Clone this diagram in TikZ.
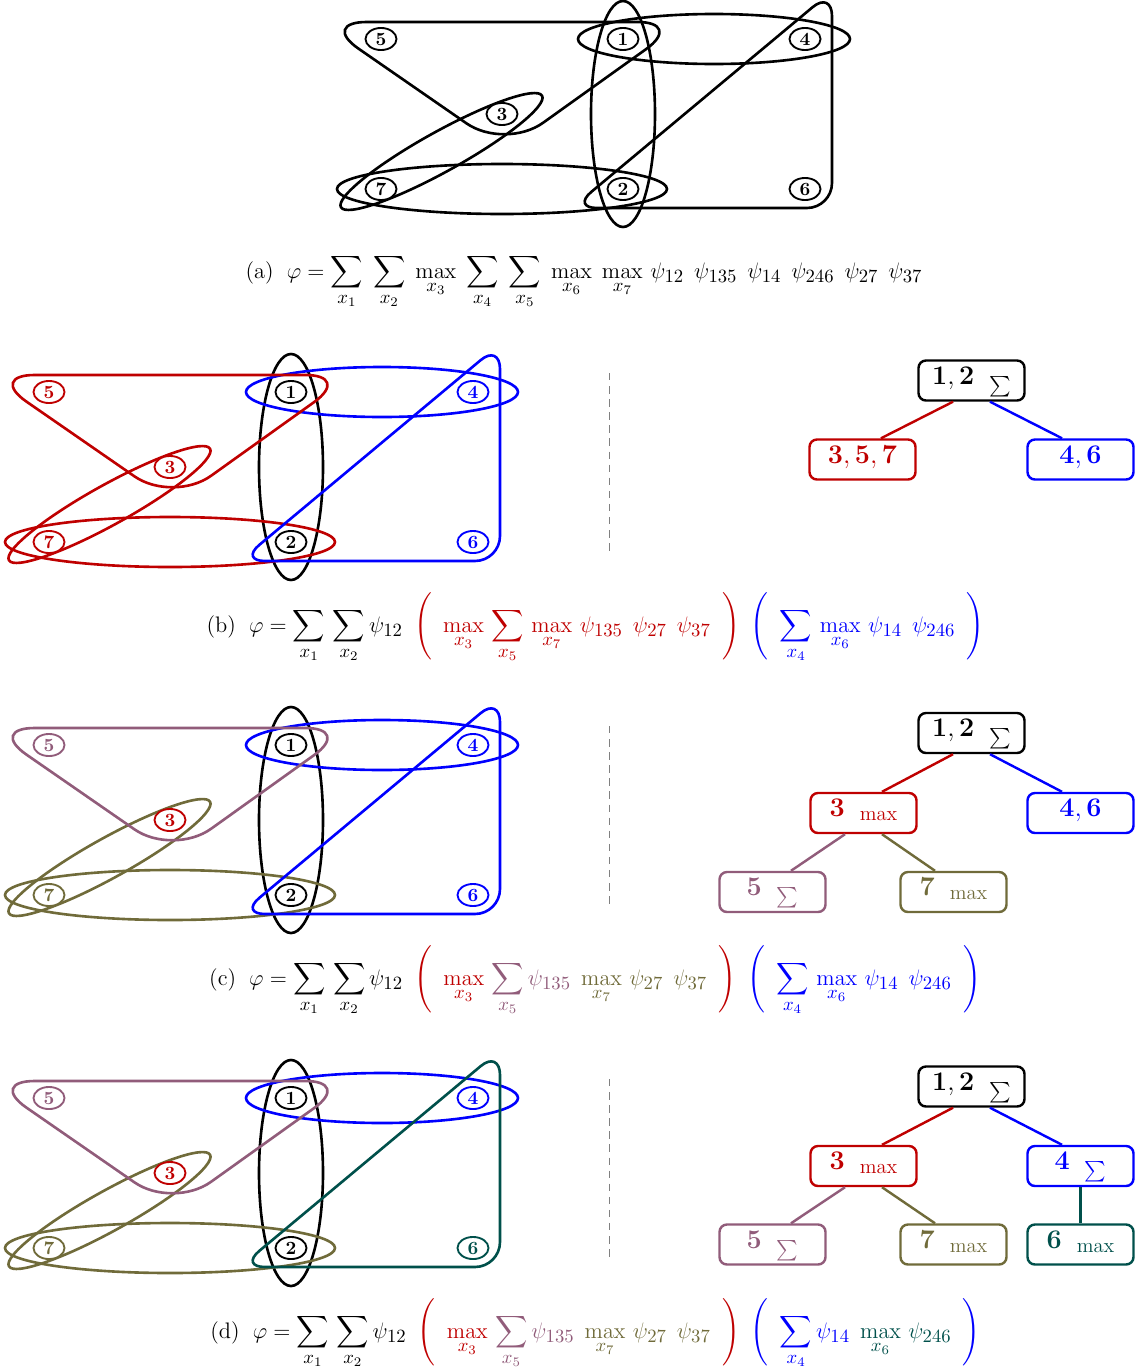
\documentclass[tikz,border=0pt]{standalone}
\usepackage{exscale}
\DeclareMathSizes{12}{12}{10}{7}
\usetikzlibrary{calc,shapes.geometric}
\definecolor{colred}{RGB}{191,0,0}
\definecolor{colblue}{RGB}{0,0,255}
\definecolor{colmauve}{RGB}{145,92,122}
\definecolor{cololive}{RGB}{112,107,58}
\definecolor{colteal}{RGB}{0,80,75}
\pgfdeclarelayer{bg}
\pgfsetlayers{bg,main}
\newcommand\hgraph[3]{%
  \node[hv,n5] (#1-5) at ({381+(#2)},{39+(#3)}) {5};
  \node[hv,n1] (#1-1) at ({623+(#2)},{39+(#3)}) {1};
  \node[hv,n4] (#1-4) at ({805+(#2)},{39+(#3)}) {4};
  \node[hv,n3] (#1-3) at ({502+(#2)},{114+(#3)}) {3};
  \node[hv,n7] (#1-7) at ({381+(#2)},{189+(#3)}) {7};
  \node[hv,n2] (#1-2) at ({623+(#2)},{189+(#3)}) {2};
  \node[hv,n6] (#1-6) at ({805+(#2)},{189+(#3)}) {6};
  \coordinate (#1-c37) at ($(#1-3)!0.5!(#1-7)$);
  \begin{pgfonlayer}{bg}
    \draw[he,e12] ($(#1-1)!0.5!(#1-2)$) ellipse [x radius=32, y radius=113];
    \draw[he,e14] ($(#1-1)!0.5!(#1-4)$) ellipse [x radius=136, y radius=25];
    \draw[he,e27] ($(#1-7)!0.5!(#1-2)$) ellipse [x radius=165, y radius=25];
    \draw[he,e37,rotate around={29:(#1-c37)}] (#1-c37) ellipse [x radius=115, y radius=20];
    \draw[he,e135,rounded corners=25pt] ($(#1-5)+(-61,-17)$) -- ($(#1-1)+(61,-17)$) -- ($(#1-3)+(3,36)$) -- cycle;
    \draw[he,e246,rounded corners=13.4pt] ($(#1-4)+(27,-48)$) -- ($(#1-6)+(27,19)$) -- ($(#1-2)+(-51,19)$) -- cycle;
  \end{pgfonlayer}}
\newcommand\tbig{\fontsize{13.5}{16}\selectfont}
\newcommand\tsum[1]{{\tbig$\mathbf{#1}$}\hspace{8pt}\raisebox{-4pt}{\fontsize{11}{13}\selectfont$\sum$}}
\newcommand\tmax[1]{{\tbig$\mathbf{#1}$}\hspace{8pt}\raisebox{-2.2pt}{\fontsize{11}{13}\selectfont max}}
\newcommand\tplain[1]{{\tbig$\mathbf{#1}$}}
\newcommand\frmfont{\fontsize{12}{14}\selectfont}
\newcommand\pg{\;\,}
\begin{document}
\begin{tikzpicture}[x=0.5348pt,y=-0.5348pt,
  hv/.style={shape=ellipse,draw,fill=white,line width=1pt,minimum width=16.6pt,minimum height=11.8pt,inner sep=0pt,font=\bfseries},
  he/.style={line width=1.4pt},
  tb/.style={draw,rounded corners=4pt,line width=1.3pt,minimum width=56.7pt,minimum height=21.4pt,inner sep=0pt,text height=8pt,text depth=3.9pt},
  te/.style={line width=1.3pt},
  sep/.style={gray,line width=0.5pt,dash pattern=on 4pt off 3pt},
  frm/.style={anchor=base,inner sep=0pt,font=\frmfont},
  e12/.style={draw=black},e14/.style={draw=black},e27/.style={draw=black},
  e37/.style={draw=black},e135/.style={draw=black},e246/.style={draw=black},
  n1/.style={},n2/.style={},n3/.style={},n4/.style={},n5/.style={},n6/.style={},n7/.style={}]
\useasboundingbox (0,0) rectangle (1136,1371);

% ---------- (a)
\hgraph{a}{0}{0}
\node[frm] (fa) at (584,278) {(a)\hspace{7pt}$\displaystyle\varphi=\sum_{x_1}\;\sum_{x_2}\;\max_{x_3}\;\sum_{x_4}\;\sum_{x_5}\;\max_{x_6}\;\max_{x_7}\,\psi_{12}\pg\psi_{135}\pg\psi_{14}\pg\psi_{246}\pg\psi_{27}\pg\psi_{37}$};

% ---------- (b)
\begin{scope}[e135/.style={draw=colred},e37/.style={draw=colred},e27/.style={draw=colred},
  e14/.style={draw=colblue},e246/.style={draw=colblue},
  n3/.style={draw=colred,text=colred},n5/.style={draw=colred,text=colred},n7/.style={draw=colred,text=colred},
  n4/.style={draw=colblue,text=colblue},n6/.style={draw=colblue,text=colblue}]
\hgraph{b}{-332}{353}
\end{scope}
\draw[sep] (609,373) -- (609,556);
\node[tb] (b-r) at (971.5,380.5) {\tsum{1,2}};
\node[tb,draw=colred,text=colred] (b-357) at (862.5,459.5) {\tplain{3,5,7}};
\node[tb,draw=colblue,text=colblue] (b-46) at (1080.5,459.5) {\tplain{4,6}};
\draw[te,colred] ($(b-r.south)+(-18.5,0)$) -- ($(b-357.north)+(18.5,0)$);
\draw[te,colblue] ($(b-r.south)+(18.5,0)$) -- ($(b-46.north)+(-18.5,0)$);
\node[frm] (fb) at (595.5,632) {(b)\hspace{7pt}$\displaystyle\varphi=\sum_{x_1}\,\sum_{x_2}\psi_{12}\enspace{\color{colred}\left(\enspace\max_{x_3}\,\sum_{x_5}\,\max_{x_7}\,\psi_{135}\pg\psi_{27}\pg\psi_{37}\enspace\right)}\enspace{\color{colblue}\left(\enspace\sum_{x_4}\,\max_{x_6}\,\psi_{14}\pg\psi_{246}\enspace\right)}$};

% ---------- (c)
\begin{scope}[e135/.style={draw=colmauve},e37/.style={draw=cololive},e27/.style={draw=cololive},
  e14/.style={draw=colblue},e246/.style={draw=colblue},
  n3/.style={draw=colred,text=colred},n5/.style={draw=colmauve,text=colmauve},n7/.style={draw=cololive,text=cololive},
  n4/.style={draw=colblue,text=colblue},n6/.style={draw=colblue,text=colblue}]
\hgraph{c}{-332}{706}
\end{scope}
\draw[sep] (609,726) -- (609,909);
\node[tb] (c-r) at (971.5,733) {\tsum{1,2}};
\node[tb,draw=colred,text=colred] (c-3) at (863.5,813) {\tmax{3}};
\node[tb,draw=colblue,text=colblue] (c-46) at (1080.5,813) {\tplain{4,6}};
\node[tb,draw=colmauve,text=colmauve] (c-5) at (772.5,892) {\tsum{5}};
\node[tb,draw=cololive,text=cololive] (c-7) at (953.5,892) {\tmax{7}};
\draw[te,colred] ($(c-r.south)+(-18.5,0)$) -- ($(c-3.north)+(18.5,0)$);
\draw[te,colblue] ($(c-r.south)+(18.5,0)$) -- ($(c-46.north)+(-18.5,0)$);
\draw[te,colmauve] ($(c-3.south)+(-18.5,0)$) -- ($(c-5.north)+(18.5,0)$);
\draw[te,cololive] ($(c-3.south)+(18.5,0)$) -- ($(c-7.north)+(-18.5,0)$);
\node[frm] (fc) at (595,985) {(c)\hspace{7pt}$\displaystyle\varphi=\sum_{x_1}\,\sum_{x_2}\psi_{12}\enspace{\color{colred}\left(\enspace\max_{x_3}\,{\color{colmauve}\sum_{x_5}\psi_{135}}\pg{\color{cololive}\max_{x_7}\,\psi_{27}\pg\psi_{37}}\enspace\right)}\enspace{\color{colblue}\left(\enspace\sum_{x_4}\,\max_{x_6}\,\psi_{14}\pg\psi_{246}\enspace\right)}$};

% ---------- (d)
\begin{scope}[e135/.style={draw=colmauve},e37/.style={draw=cololive},e27/.style={draw=cololive},
  e14/.style={draw=colblue},e246/.style={draw=colteal},
  n3/.style={draw=colred,text=colred},n5/.style={draw=colmauve,text=colmauve},n7/.style={draw=cololive,text=cololive},
  n4/.style={draw=colblue,text=colblue},n6/.style={draw=colteal,text=colteal}]
\hgraph{d}{-332}{1059}
\end{scope}
\draw[sep] (609,1079) -- (609,1262);
\node[tb] (d-r) at (971.5,1086.5) {\tsum{1,2}};
\node[tb,draw=colred,text=colred] (d-3) at (863.5,1166) {\tmax{3}};
\node[tb,draw=colblue,text=colblue] (d-4) at (1080.5,1166) {\tsum{4}};
\node[tb,draw=colmauve,text=colmauve] (d-5) at (772.5,1244.5) {\tsum{5}};
\node[tb,draw=cololive,text=cololive] (d-7) at (953.5,1244.5) {\tmax{7}};
\node[tb,draw=colteal,text=colteal] (d-6) at (1080.5,1244.5) {\tmax{6}};
\draw[te,colred] ($(d-r.south)+(-18.5,0)$) -- ($(d-3.north)+(18.5,0)$);
\draw[te,colblue] ($(d-r.south)+(18.5,0)$) -- ($(d-4.north)+(-18.5,0)$);
\draw[te,colmauve] ($(d-3.south)+(-18.5,0)$) -- ($(d-5.north)+(18.5,0)$);
\draw[te,cololive] ($(d-3.south)+(18.5,0)$) -- ($(d-7.north)+(-18.5,0)$);
\draw[te,colteal] (d-4) -- (d-6);
\node[frm] (fd) at (595.5,1338) {(d)\hspace{7pt}$\displaystyle\varphi=\sum_{x_1}\,\sum_{x_2}\psi_{12}\enspace{\color{colred}\left(\enspace\max_{x_3}\,{\color{colmauve}\sum_{x_5}\psi_{135}}\pg{\color{cololive}\max_{x_7}\,\psi_{27}\pg\psi_{37}}\enspace\right)}\enspace{\color{colblue}\left(\enspace\sum_{x_4}\psi_{14}\pg{\color{colteal}\max_{x_6}\,\psi_{246}}\enspace\right)}$};
\end{tikzpicture}
\end{document}
